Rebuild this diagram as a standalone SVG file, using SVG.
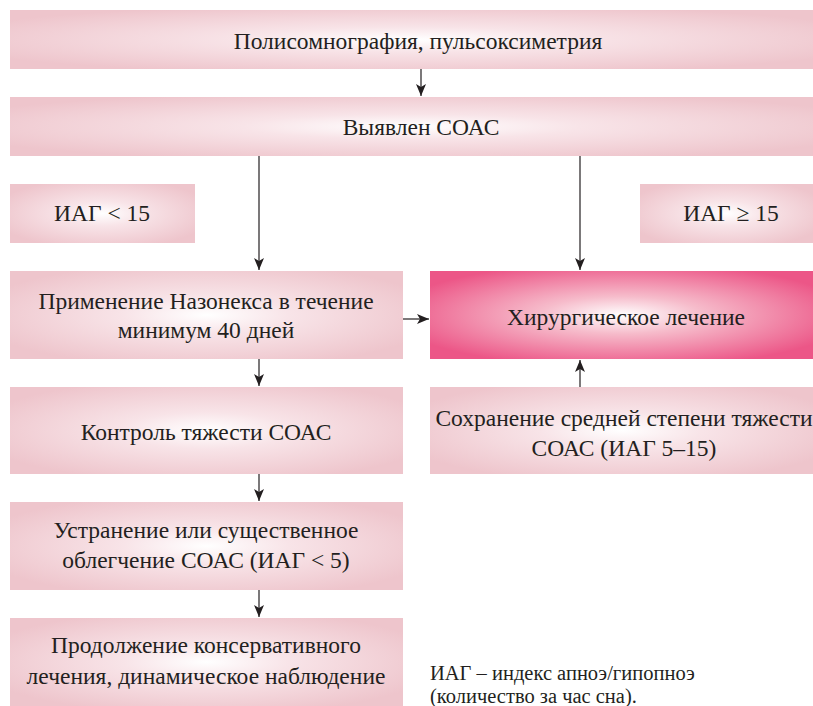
<svg xmlns="http://www.w3.org/2000/svg" width="813" height="706" viewBox="0 0 813 706">
<style>
.t{font-family:"Liberation Serif","DejaVu Serif",serif;font-size:23.5px;fill:#231f20;text-anchor:middle}
.f{font-family:"Liberation Serif","DejaVu Serif",serif;font-size:20.5px;fill:#231f20}
.c{stroke:#231f20;stroke-width:1.2;fill:none}
</style>
<defs>
<radialGradient id="g" cx="0.5" cy="0.5" r="0.6">
<stop offset="0" stop-color="#ffffff"/>
<stop offset="0.35" stop-color="#f8e4e8"/>
<stop offset="1" stop-color="#eec5cc"/>
</radialGradient>
<radialGradient id="h" cx="0.5" cy="0.5" r="0.6">
<stop offset="0" stop-color="#ffffff"/>
<stop offset="0.35" stop-color="#f6bccb"/>
<stop offset="1" stop-color="#ec5687"/>
</radialGradient>
<marker id="a" markerWidth="14" markerHeight="12" refX="12" refY="6" orient="auto" markerUnits="userSpaceOnUse">
<path d="M0,1 L12,6 L0,11 L3,6 Z" fill="#231f20"/>
</marker>
</defs>
<g id="n1"><rect x="10" y="10" width="803" height="59" fill="url(#g)"/><text class="t" x="418" y="48.5">Полисомнография, пульсоксиметрия</text></g>
<g id="n2"><rect x="10" y="97" width="803" height="59" fill="url(#g)"/><text class="t" x="421" y="135">Выявлен СОАС</text></g>
<g id="n3"><rect x="10" y="184" width="185" height="59" fill="url(#g)"/><text class="t" x="102" y="221">ИАГ &lt; 15</text></g>
<g id="n4"><rect x="640" y="184" width="173" height="59" fill="url(#g)"/><text class="t" x="731" y="221">ИАГ ≥ 15</text></g>
<g id="n5"><rect x="10" y="271" width="393" height="88" fill="url(#g)"/><text class="t" x="206" y="309">Применение Назонекса в течение</text><text class="t" x="206" y="338">минимум 40 дней</text></g>
<g id="n6"><rect x="430" y="271" width="383" height="88" fill="url(#h)"/><text class="t" x="626" y="325">Хирургическое лечение</text></g>
<g id="n7"><rect x="10" y="387" width="393" height="87" fill="url(#g)"/><text class="t" x="206" y="440">Контроль тяжести СОАС</text></g>
<g id="n8"><rect x="430" y="387" width="383" height="87" fill="url(#g)"/><text class="t" x="624" y="426">Сохранение средней степени тяжести</text><text class="t" x="624" y="456">СОАС (ИАГ 5–15)</text></g>
<g id="n9"><rect x="10" y="502" width="393" height="88" fill="url(#g)"/><text class="t" x="206" y="538">Устранение или существенное</text><text class="t" x="206" y="568">облегчение СОАС (ИАГ &lt; 5)</text></g>
<g id="n10"><rect x="10" y="618" width="393" height="88" fill="url(#g)"/><text class="t" x="206" y="653">Продолжение консервативного</text><text class="t" x="206" y="684">лечения, динамическое наблюдение</text></g>
<g id="note"><text class="f" x="430" y="680">ИАГ – индекс апноэ/гипопноэ</text><text class="f" x="430" y="703">(количество за час сна).</text></g>
<g id="connectors">
<line class="c" x1="421" y1="69" x2="421" y2="96" marker-end="url(#a)"/>
<line class="c" x1="259" y1="156" x2="259" y2="270" marker-end="url(#a)"/>
<line class="c" x1="580" y1="156" x2="580" y2="270" marker-end="url(#a)"/>
<line class="c" x1="403" y1="319" x2="429" y2="319" marker-end="url(#a)"/>
<line class="c" x1="259" y1="359" x2="259" y2="386" marker-end="url(#a)"/>
<line class="c" x1="580" y1="387" x2="580" y2="360" marker-end="url(#a)"/>
<line class="c" x1="259" y1="474" x2="259" y2="501" marker-end="url(#a)"/>
<line class="c" x1="259" y1="590" x2="259" y2="617" marker-end="url(#a)"/>
</g>
</svg>
